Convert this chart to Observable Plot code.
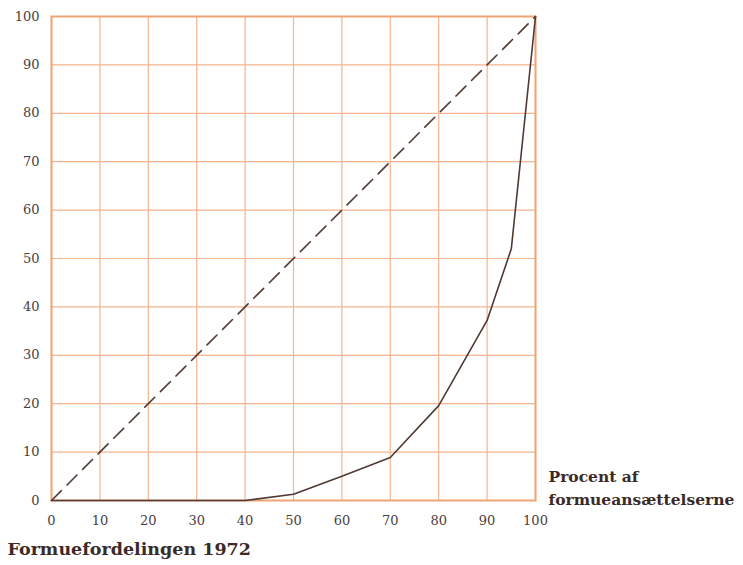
<!DOCTYPE html>
<html><head><meta charset="utf-8">
<script src="https://cdn.jsdelivr.net/npm/d3@7"></script>
<script src="https://cdn.jsdelivr.net/npm/@observablehq/plot@0.6"></script>
<style>body{margin:0;background:#fff;} svg{display:block;}</style>
</head><body><div id="chart"></div>
<script>
const population = [0, 10, 20, 30, 40, 50, 60, 70, 80, 90, 95, 100];
const wealth     = [0, 0, 0, 0, 0, 1.3, 5, 8.9, 19.6, 37.2, 52, 100];
const equality   = [0, 100];
const ticks = [0, 10, 20, 30, 40, 50, 60, 70, 80, 90, 100];
const xTitle = ["Procent af", "formueansættelserne"];
const caption = "Formuefordelingen 1972";

const curve = population.map((p, i) => ({p, w: wealth[i]}));
const diag = equality.map(v => ({p: v, w: v}));
const ink = "#4f3a34";
const font = "'DejaVu Serif', 'Liberation Serif', serif";

const chart = Plot.plot({
  width: 743, height: 565,
  marginLeft: 51, marginRight: 208, marginTop: 16, marginBottom: 65,
  style: {fontFamily: font, fontSize: "13px", color: "#4a4040", background: "#fff"},
  x: {domain: [0, 100]},
  y: {domain: [0, 100]},
  marks: [
    Plot.gridX(ticks, {stroke: "#f5b58e", strokeOpacity: 1, strokeWidth: 1.2}),
    Plot.gridY(ticks, {stroke: "#f5b58e", strokeOpacity: 1, strokeWidth: 1.2}),
    Plot.frame({stroke: "#f0a474", strokeWidth: 2}),
    Plot.axisX({ticks, tickSize: 0, tickPadding: 15, label: null, fill: "#4a4040"}),
    Plot.axisY({ticks, tickSize: 0, tickPadding: 12, label: null, fill: "#4a4040"}),
    Plot.line(diag, {x: "p", y: "w", stroke: ink, strokeWidth: 1.6, strokeDasharray: "14,8"}),
    Plot.line(curve, {x: "p", y: "w", stroke: ink, strokeWidth: 1.6}),
    Plot.text([xTitle.join("\n")], {frameAnchor: "bottom-right", textAnchor: "start", lineAnchor: "bottom",
      dx: 13, dy: 4, lineHeight: 1.45, fontWeight: "bold", fontSize: 15.5, fill: "#3a2a28"}),
    Plot.text([caption], {frameAnchor: "bottom-left", textAnchor: "start", lineAnchor: "bottom",
      dx: -44, dy: 54, fontWeight: "bold", fontSize: 17.5, fill: "#3a2a28"})
  ]
});
document.getElementById("chart").appendChild(chart);
</script></body></html>
